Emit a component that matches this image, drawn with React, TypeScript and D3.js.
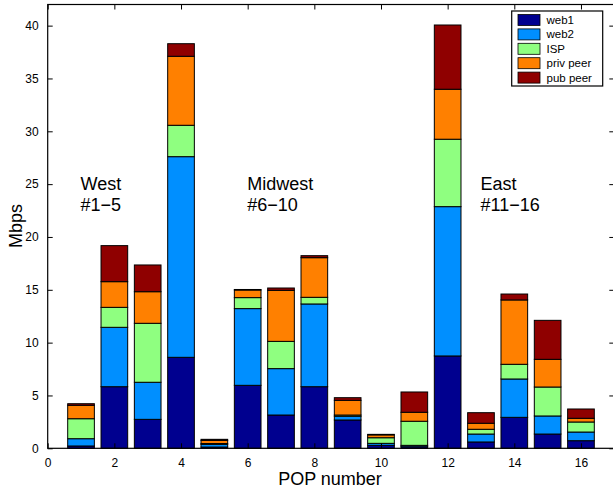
import { useEffect, useRef } from "react";
import * as d3 from "d3";

const W = 613;
const H = 488;

const marginLeft = 47.7;
const marginTop = 4.5;
const plotRight = 614.3;
const plotBottom = 448.3;

// POP numbers 1..16
const pops = d3.range(1, 17);
const seriesNames = ["web1", "web2", "ISP", "priv peer", "pub peer"];
const seriesColors = ["#00008F", "#008FFF", "#8FFF80", "#FF8000", "#8F0000"];

// values per POP, in Mbps
const web1 = [0.22, 5.83, 2.74, 8.61, 0.12, 5.96, 3.15, 5.83, 2.68, 0.28, 0.15, 8.74, 0.6, 2.93, 1.35, 0.72];
const web2 = [0.69, 5.62, 3.51, 18.99, 0.25, 7.26, 4.39, 7.83, 0.35, 0.19, 0.13, 14.13, 0.75, 3.63, 1.71, 0.82];
const isp = [1.89, 1.89, 5.58, 2.97, 0.08, 1.04, 2.58, 0.63, 0.12, 0.53, 2.28, 6.38, 0.45, 1.39, 2.74, 0.95];
const privPeer = [1.27, 2.43, 2.99, 6.53, 0.3, 0.72, 4.83, 3.75, 1.39, 0.27, 0.85, 4.73, 0.57, 6.09, 2.62, 0.35];
const pubPeer = [0.15, 3.41, 2.53, 1.19, 0.1, 0.05, 0.22, 0.19, 0.25, 0.05, 1.92, 6.08, 1.0, 0.56, 3.69, 0.88];

const xTicks = [0, 2, 4, 6, 8, 10, 12, 14, 16];
const yTicks = [0, 5, 10, 15, 20, 25, 30, 35, 40];

const regions = [
  { label: "West", sub: "#1\u22125", x: 1.0 },
  { label: "Midwest", sub: "#6\u221210", x: 6.0 },
  { label: "East", sub: "#11\u221216", x: 13.0 },
];

const font = "Helvetica, Arial, 'Liberation Sans', sans-serif";

export default function App() {
  const axesRef = useRef<SVGGElement | null>(null);

  const x = d3.scaleLinear().domain([0, 17]).range([marginLeft, plotRight]);
  const y = d3.scaleLinear().domain([0, 42]).range([plotBottom, marginTop]);

  const table = pops.map((p, i) => ({
    pop: p,
    web1: web1[i],
    web2: web2[i],
    ISP: isp[i],
    "priv peer": privPeer[i],
    "pub peer": pubPeer[i],
  }));
  const stacked = d3.stack<any>().keys(seriesNames)(table);
  const barW = x(0.8) - x(0);

  useEffect(() => {
    const g = d3.select(axesRef.current);
    g.selectAll("*").remove();
    const tick = 5;
    const style = (sel: any) => {
      sel.select(".domain").remove();
      sel.selectAll("line").attr("stroke", "#000");
      sel.selectAll("text").attr("font-size", 12).attr("font-family", font).attr("fill", "#000");
    };
    g.append("g")
      .attr("transform", `translate(0,${plotBottom})`)
      .call(d3.axisBottom(x).tickValues(xTicks).tickSize(-tick).tickPadding(10))
      .call(style);
    g.append("g")
      .attr("transform", `translate(0,${marginTop})`)
      .call(d3.axisTop(x).tickValues(xTicks).tickSize(-tick).tickFormat(() => ""))
      .call(style);
    g.append("g")
      .attr("transform", `translate(${marginLeft},0)`)
      .call(d3.axisLeft(y).tickValues(yTicks).tickSize(-tick).tickPadding(9))
      .call(style);
    g.append("g")
      .attr("transform", `translate(${plotRight},0)`)
      .call(d3.axisRight(y).tickValues(yTicks).tickSize(-tick).tickFormat(() => ""))
      .call(style);
  }, []);

  return (
    <svg width={W} height={H} style={{ position: "absolute", left: 0, top: 0, background: "#fff" }}>
      <rect x={0} y={0} width={W} height={H} fill="#fff" />
      <g className="bars">
        {stacked.map((s, si) =>
          s.map((d, i) => (
            <rect
              key={`${si}-${i}`}
              x={x(pops[i]) - barW / 2}
              y={y(d[1])}
              width={barW}
              height={Math.max(0, y(d[0]) - y(d[1]))}
              fill={seriesColors[si]}
              stroke="#000"
              strokeWidth={1}
            />
          ))
        )}
      </g>
      <g ref={axesRef} />
      <rect
        x={marginLeft}
        y={marginTop}
        width={plotRight - marginLeft}
        height={plotBottom - marginTop}
        fill="none"
        stroke="#000"
        strokeWidth={1.2}
      />
      {regions.map((r) => (
        <text key={r.label} x={x(r.x) - 0.5} y={190} fontSize={18} fontFamily={font} fill="#000">
          <tspan x={x(r.x) - 0.5}>{r.label}</tspan>
          <tspan x={x(r.x) - 0.5} dy={21}>{r.sub}</tspan>
        </text>
      ))}
      <g className="legend">
        <rect x={511.7} y={11} width={91} height={75} fill="#fff" stroke="#000" strokeWidth={1.2} />
        {seriesNames.map((n, i) => (
          <g key={n} transform={`translate(0,${20 + i * 14.4})`}>
            <rect x={518} y={-5.5} width={22} height={11} fill={seriesColors[i]} stroke="#000" strokeWidth={0.8} />
            <text x={546.5} y={4} fontSize={11.5} fontFamily={font} fill="#000">
              {n}
            </text>
          </g>
        ))}
      </g>
      <text x={330} y={485} textAnchor="middle" fontSize={18} fontFamily={font} fill="#000">
        POP number
      </text>
      <text
        transform={`translate(22,226) rotate(-90)`}
        textAnchor="middle"
        fontSize={18}
        fontFamily={font}
        fill="#000"
      >
        Mbps
      </text>
    </svg>
  );
}
